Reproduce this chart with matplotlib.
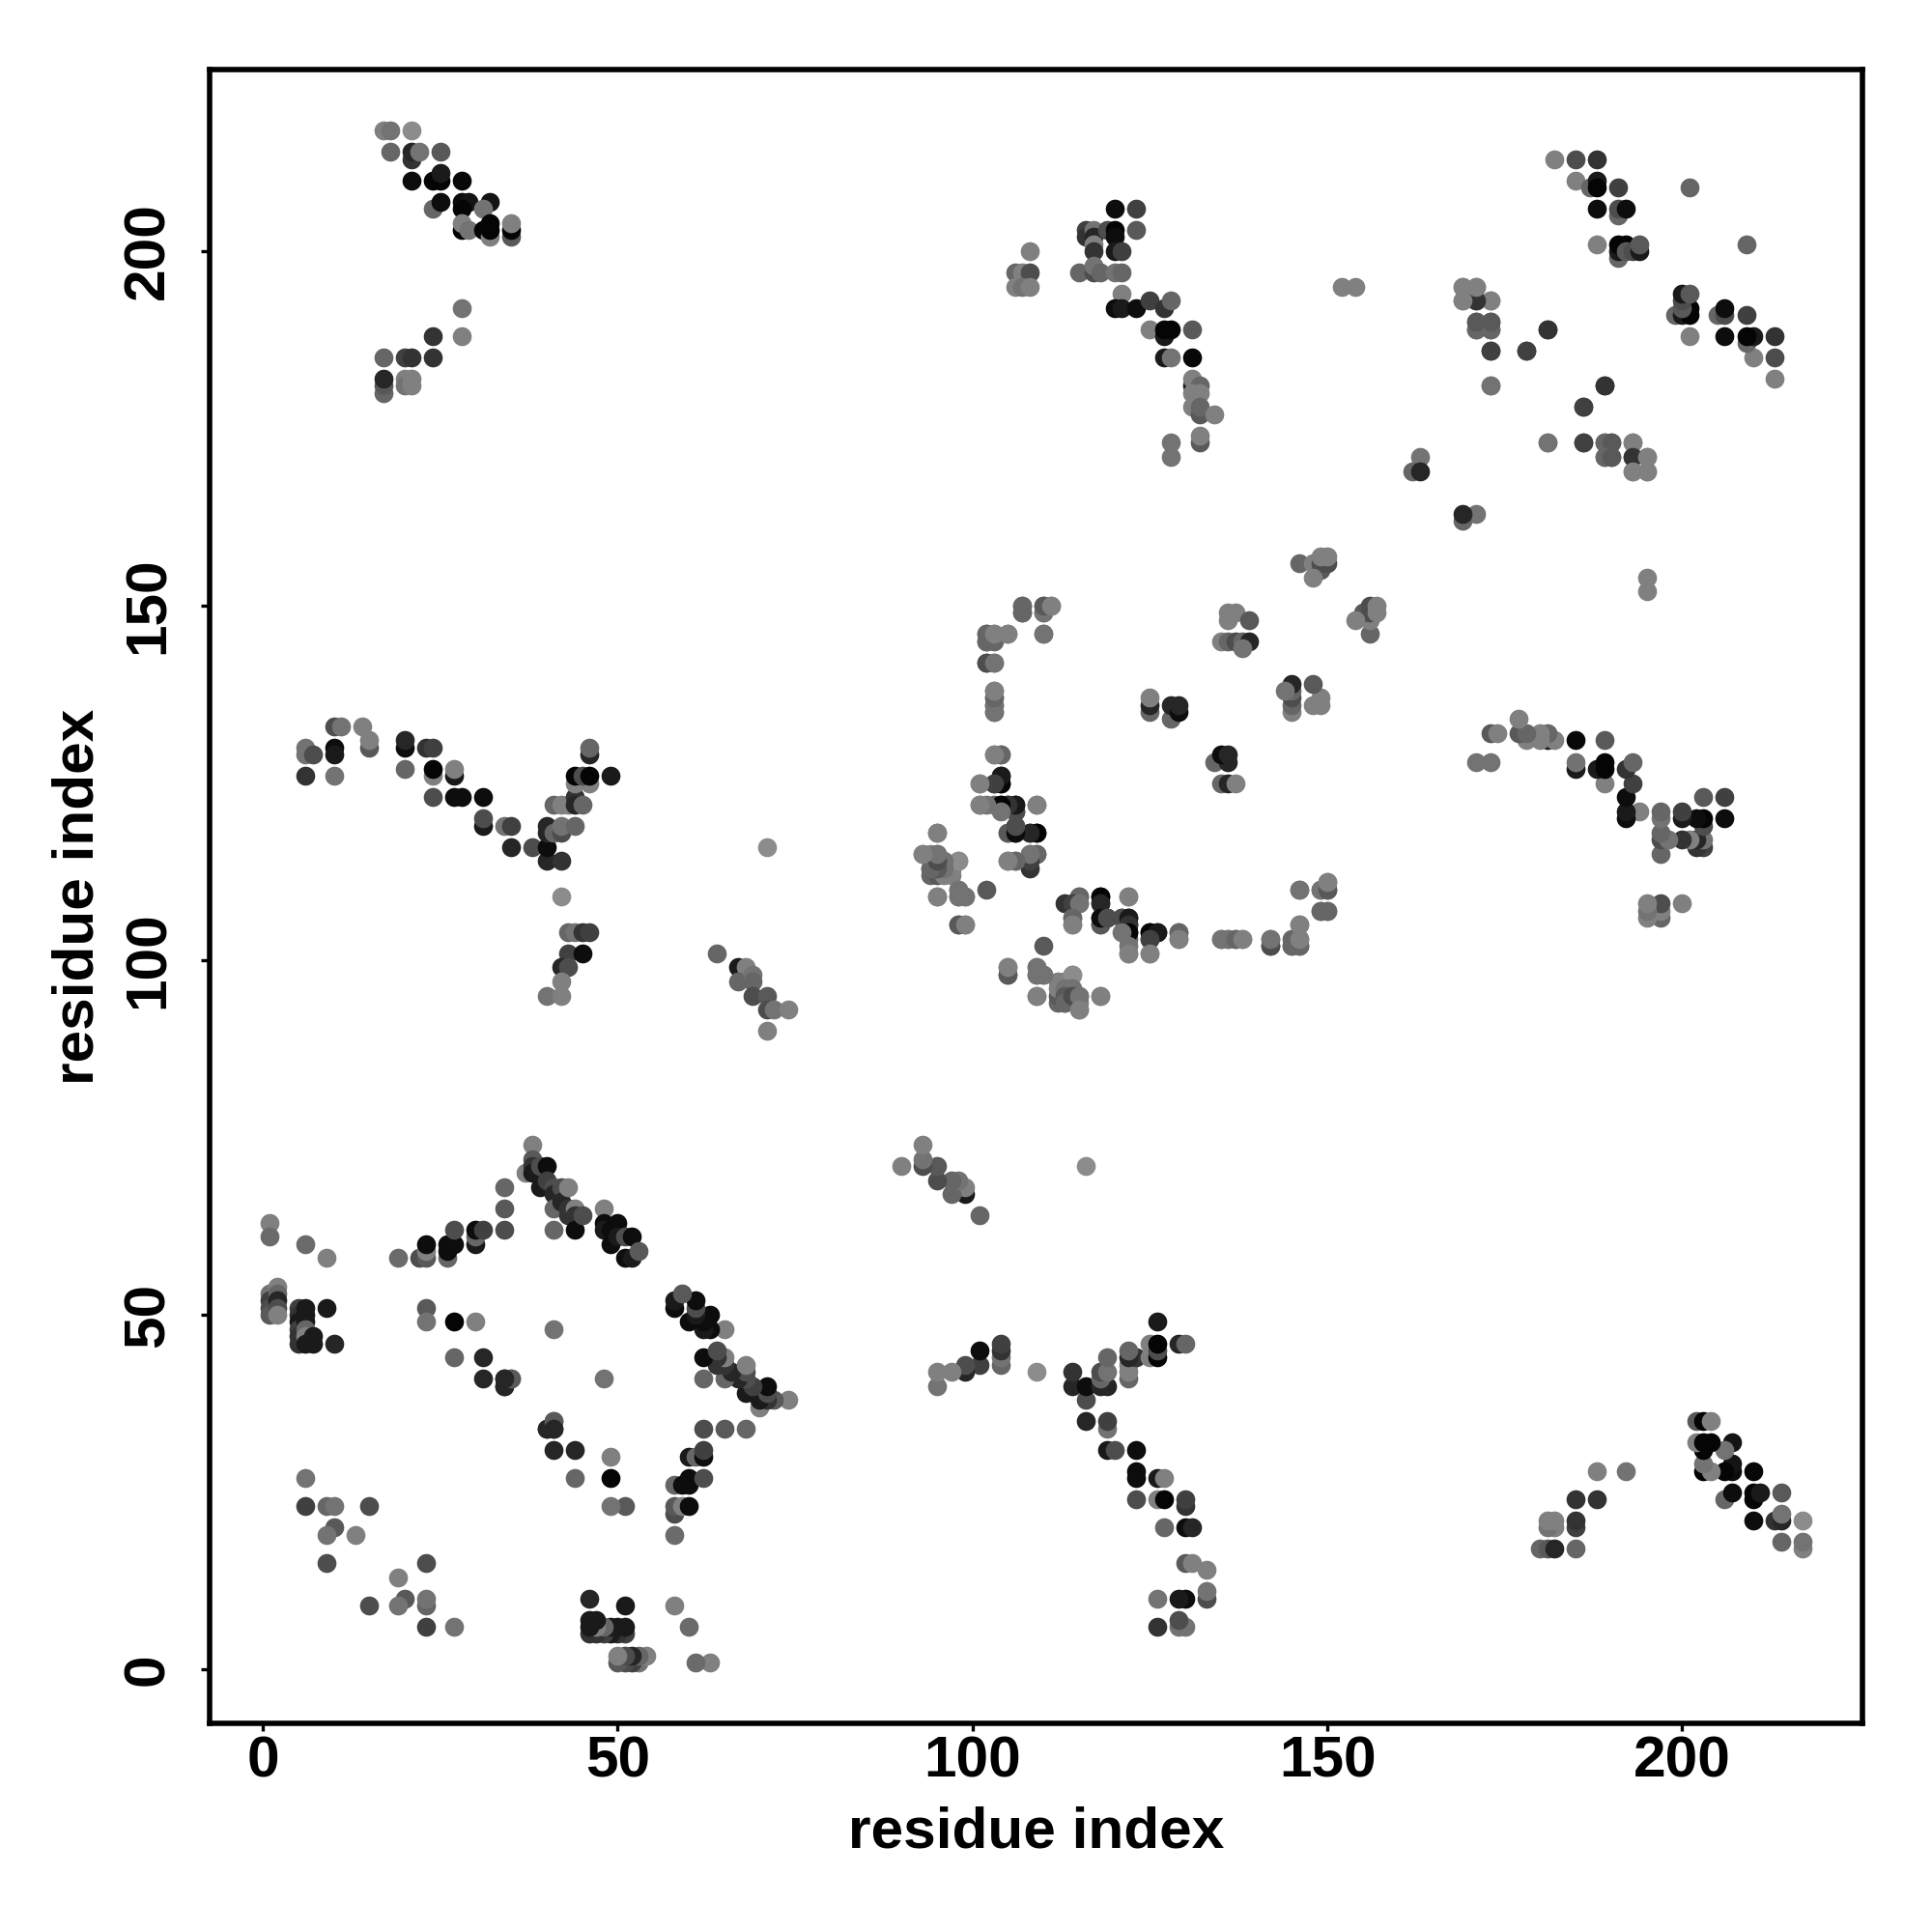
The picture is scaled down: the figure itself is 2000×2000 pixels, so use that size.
import matplotlib
matplotlib.use("Agg")
import matplotlib.pyplot as plt

plt.rcParams['font.family'] = ['Liberation Sans', 'DejaVu Sans']

# contacts (residue i, residue j, grey level); the map is symmetric
low_corner = [(6,27,.45),(6,23,.25),(9,23,.4),(10,23,.45),(15,23,.3),(10,20,.35),(9,19,.45),(13,19,.5),(9,15,.3),
              (1,63,.5),(1,61,.42),(6,60,.42),(9,58,.5)]
block_a = [(1,53,.45),(1,52,.25),(1,51,.3),(1,50,.35),(2,54,.5),(2,53,.4),(2,52,.15),(2,51,.3),(2,50,.5),
           (5,51,.25),(5,50,.2),(5,49,.1),(5,48,.25),(5,47,.2),(5,46,.2),(6,51,.1),(6,50,.1),(6,49,.1),
           (6,48,.4),(6,47,.5),(6,46,.1),(7,47,.1),(7,46,.1),(9,51,.1),(10,46,.15)]
block_b = [(19,58,.42),(22,58,.3),(23,58,.35),(23,59,.5),(23,60,.05),(26,58,.4),(26,59,.05),(26,60,.05),
           (27,60,.05),(27,62,.3),(30,60,.1),(30,61,.4),(30,62,.05),(31,62,.25),(34,62,.3),(34,65,.35),(34,68,.4)]
block_c = [(38,74,.5),(37,70,.5),(38,72,.35),(38,71,.2),(38,70,.1),(39,68,.1),(39,71,.3),(40,71,.05),(40,69,.25),
           (41,68,.3),(41,67,.15),(41,65,.4),(41,62,.4),(42,68,.3),(42,66,.15),(43,68,.5),(43,65,.2),(43,64,.2),
           (44,65,.5),(44,64,.2),(44,62,.05),(45,64,.3),(48,65,.5),(48,63,.05),(48,62,.1),(49,62,.05),(49,60,.05),
           (50,63,.05),(50,61,.1),(51,61,.3),(51,58,.05),(52,61,.05),(52,58,.1),(53,59,.35)]
block_e = [(27,44,.4),(31,44,.15),(31,41,.15),(34,40,.1),(34,41,.1),(35,41,.4),(23,51,.35),(23,49,.45),
           (27,49,.02),(30,49,.5),(41,48,.45),(40,34,.15),(41,35,.35),(41,34,.15)]
top_left = [(17,217,.5),(18,217,.45),(21,217,.55),(18,214,.4),(21,213,.2),(21,214,.15),(22,214,.45),(25,214,.35),
            (21,210,.05),(24,210,.02),(25,210,.02),(25,211,.1),(28,210,.03),(24,206,.4),(25,207,.05),(28,207,.05),
            (29,207,.08),(28,206,.02),(32,207,.08),(31,206,.45),(28,203,.0),(28,204,.5),(29,203,.45),(31,203,.02),
            (32,204,.02),(32,202,.5),(32,203,.02),(35,202,.35),(35,203,.02),(35,204,.5),
            (28,192,.45),(24,188,.2),(28,188,.5),(17,185,.4),(20,185,.25),(21,185,.2),(24,185,.2),
            (17,180,.4),(17,181,.35),(17,182,.15),(20,182,.5),(20,181,.45),(21,182,.5),(21,181,.5)]
top_mid = [(108,200,.5),(106,197,.4),(107,197,.5),(108,197,.3),(106,195,.5),(107,195,.45),(108,195,.5),(115,197,.4),
           (116,203,.25),(116,202,.2),(117,203,.45),(117,202,.15),(117,201,.5),(117,200,.2),(117,197,.3),(117,198,.45),
           (118,197,.4),(119,203,.3),(120,206,.05),(123,206,.25),(120,203,.02),(120,202,.05),(120,200,.1),(121,200,.25),
           (123,203,.35),(120,197,.45),(121,197,.4),(121,194,.5),(120,192,.05),(121,192,.1),(123,192,.05),(125,193,.25),
           (127,192,.2),(128,193,.4),(125,189,.5),(127,188,.1),(127,189,.02),(128,189,.02),(131,189,.35),(127,185,.1),
           (128,185,.45),(131,185,.03),(131,181,.1),(131,182,.5),(132,181,.4),(131,180,.5),(132,180,.5),(131,178,.5),
           (132,177,.35),(132,178,.4),(134,177,.5),(132,173,.35),(132,174,.5),(128,173,.45),(128,171,.45)]
top_right = [(152,195,.5),(154,195,.5),(169,195,.5),(171,195,.5),(169,193,.5),(171,193,.3),(173,193,.5),(171,190,.35),
             (171,189,.4),(173,190,.35),(173,189,.35),(173,186,.25),(173,181,.45),(178,186,.25),(181,189,.2),
             (181,173,.45),(186,178,.25),(189,181,.2),(186,173,.25),(189,173,.4),(190,173,.35),(189,171,.4),(190,171,.35),
             (193,173,.5),(193,171,.2),(193,169,.5),(195,171,.5),(195,169,.5),(163,171,.45),(162,169,.4),(163,169,.15),
             (182,213,.5),(185,213,.3),(188,213,.2),(185,210,.5),(187,209,.4),(188,210,.1),(188,209,.02),(191,209,.25),
             (201,209,.4),(188,206,.05),(191,205,.4),(191,206,.3),(192,206,.05),(188,201,.5),(191,199,.4),(191,200,.1),
             (191,201,.02),(192,201,.02),(192,200,.35),(193,200,.3),(194,200,.1),(194,201,.35)]
left_mid = [(10,133,.3),(11,133,.45),(14,133,.5),(15,130,.35),(15,131,.5),(6,130,.45),(6,129,.45),(7,129,.3),(10,130,.05),
            (10,129,.1),(6,126,.2),(10,126,.45),(20,130,.05),(20,131,.15),(20,127,.4),(23,130,.2),(24,130,.25),(24,126,.5),
            (24,127,.02),(24,123,.3),(27,126,.1),(27,127,.5),(27,123,.05),(28,123,.05),(31,123,.05),(31,119,.1),(31,120,.3),
            (34,119,.45),(35,119,.25),(35,116,.15),(38,116,.3),(40,114,.15),(40,116,.05),(40,118,.15),(40,119,.15),
            (41,118,.4),(42,118,.3),(42,119,.45),(42,114,.2),(44,119,.4),(41,122,.4),(42,122,.5),(43,122,.5),(44,123,.2),
            (44,122,.15),(45,122,.4),(44,125,.5),(44,126,.02),(46,125,.5),(45,126,.3),(46,126,.02),(49,126,.1),
            (46,129,.15),(46,130,.4),(42,109,.55),(43,104,.4),(44,104,.45),(45,104,.2),(46,104,.25),(43,101,.25),(45,101,.05),
            (42,99,.15),(43,99,.3),(42,97,.5),(40,95,.45),(42,95,.5)]
near_71 = [(71,116,.55),(64,101,.4),(67,99,.1),(68,99,.5),(67,97,.4),(69,98,.45),(69,97,.4),(69,95,.3),(71,95,.35),
           (71,93,.3),(72,93,.45),(74,93,.5),(71,90,.5)]
centre_top = [(146,156,.4),(148,156,.5),(149,155,.35),(149,156,.3),(150,156,.3),(149,157,.5),(150,157,.5),(148,154,.5),
              (107,150,.45),(107,149,.4),(110,150,.4),(111,150,.5),(110,149,.4),(110,146,.45),(102,146,.35),(103,146,.5),
              (102,145,.35),(103,145,.4),(105,146,.5),(102,142,.3),(103,142,.45),(103,135,.4),(103,136,.42),(103,137,.45),
              (103,138,.5),(136,149,.5),(137,149,.5),(136,148,.5),(139,148,.35),(135,145,.5),(136,145,.4),(137,145,.3),
              (138,145,.4),(139,145,.15),(138,144,.45),(125,135,.4),(125,136,.15),(125,137,.5),(128,134,.4),(128,136,.15),
              (129,135,.05),(129,136,.15)]
centre_mid = [(103,129,.5),(104,129,.4),(101,125,.5),(103,125,.2),(104,125,.02),(104,126,.1),(101,122,.5),(103,122,.4),
              (104,122,.05),(105,122,.1),(106,122,.1),(109,122,.5),(106,121,.3),(105,118,.4),(106,118,.05),(106,119,.3),
              (108,118,.25),(109,118,.02),(108,113,.2),(105,114,.5),(106,114,.45),(108,115,.45),(109,115,.4),
              (95,118,.45),(94,112,.4),(95,112,.35),(94,113,.3),(95,113,.25),(93,115,.5),(94,115,.5),(95,115,.4),
              (96,113,.45),(97,113,.5),(98,114,.5),(96,112,.5),(97,112,.5),(95,109,.45),(98,110,.45),(98,109,.4),(99,109,.5),
              (102,110,.35),(98,105,.4),(99,105,.5)]
centre_low = [(115,109,.4),(114,108,.25),(115,108,.45),(118,109,.02),(118,108,.15),(122,109,.5),(114,106,.4),(114,105,.5),
              (118,105,.35),(118,106,.05),(119,106,.3),(121,106,.3),(122,106,.1),(122,105,.2),(122,104,.02),(121,104,.45),
              (122,102,.45),(122,101,.5),(125,104,.02),(126,104,.1),(125,103,.25),(125,101,.5),(129,104,.4),(129,103,.5),
              (135,103,.45),(136,103,.45),(137,103,.4),(138,103,.5),(142,102,.3),(142,103,.45),(145,102,.4),(146,102,.4),
              (146,103,.5),(146,105,.5),(146,110,.45),(149,110,.45),(150,110,.35),(150,111,.5),(149,107,.4),(150,107,.4),
              (105,98,.35),(105,99,.5),(109,98,.45),(109,99,.45),(110,98,.45),(109,95,.5),(113,97,.5),(114,98,.55),
              (113,96,.45),(114,96,.45),(113,95,.35),(113,94,.4),(114,95,.3),(115,95,.45),(115,93,.5),(118,95,.5)]
groups = [low_corner, block_a, block_b, block_c, block_e, top_left, top_mid, top_right,
          left_mid, near_71, centre_top, centre_mid, centre_low]

x_ticks = [0, 50, 100, 150, 200]
y_ticks = [0, 50, 100, 150, 200]
x_label = "residue index"
y_label = "residue index"

fig = plt.figure(figsize=(20, 20), dpi=100)
ax = fig.add_axes([217/2000, 1-1784/2000, (1928-217)/2000, (1784-72)/2000])

for group in groups:
    for i, j, g in group:
        ax.scatter([i, j], [j, i], s=200, color=str(g), linewidths=0, zorder=3)

ax.set_xlim(-7.5, 225.4)
ax.set_ylim(-7.6, 225.6)
ax.set_xticks(x_ticks)
ax.set_yticks(y_ticks)
ax.tick_params(axis='x', length=6, width=2.4, labelsize=43.5, pad=3)
ax.tick_params(axis='y', length=6.5, width=2.4, labelsize=43.5, pad=19)
for t in ax.get_xticklabels():
    t.set_fontweight('bold')
for t in ax.get_yticklabels():
    t.set_fontweight('bold')
    t.set_rotation(90)
    t.set_verticalalignment('center')
ax.set_xlabel(x_label, fontsize=43.5, fontweight='bold', labelpad=13)
ax.set_ylabel(y_label, fontsize=43.5, fontweight='bold', labelpad=13)
for s in ax.spines.values():
    s.set_linewidth(4.0)
    s.set_color('black')
fig.savefig("out.png", dpi=100, facecolor='white')
